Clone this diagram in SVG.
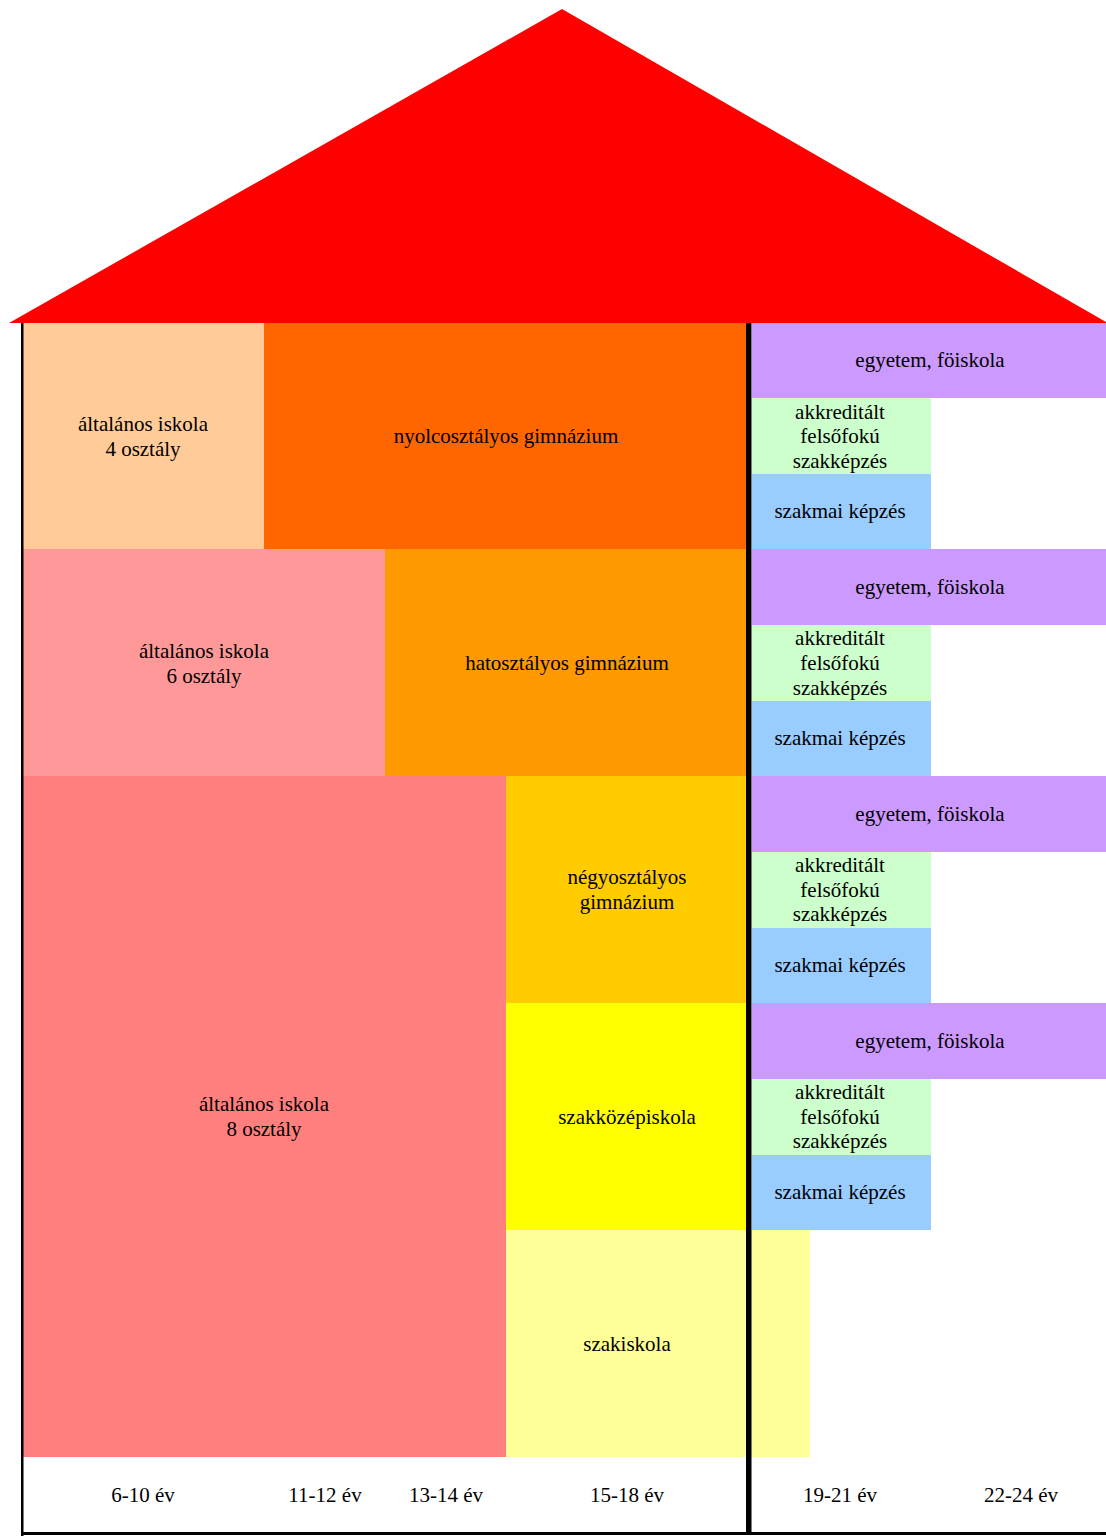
<svg xmlns="http://www.w3.org/2000/svg" width="1106" height="1536" viewBox="0 0 1106 1536">
<style>
text{font-family:"Liberation Serif","Times New Roman",serif;font-size:21px;fill:#000;text-anchor:middle}
</style>
<rect x="0" y="0" width="1106" height="1536" fill="#fff"/>
<g id="roof"><polygon points="9,323 562,9 1106,322 1106,323" fill="#ff0000"/></g>
<g id="alt4"><rect x="23" y="323" width="241" height="226" fill="#ffcc99"/><text x="143" y="431">általános iskola</text><text x="143" y="456">4 osztály</text></g>
<g id="nyolc"><rect x="264" y="323" width="482" height="226" fill="#ff6600"/><text x="506" y="443">nyolcosztályos gimnázium</text></g>
<g id="alt6"><rect x="23" y="549" width="362" height="227" fill="#ff9999"/><text x="204" y="658">általános iskola</text><text x="204" y="683">6 osztály</text></g>
<g id="hat"><rect x="385" y="549" width="361" height="227" fill="#ff9900"/><text x="567" y="670">hatosztályos gimnázium</text></g>
<g id="alt8"><rect x="23" y="776" width="483" height="681" fill="#ff7f7f"/><text x="264" y="1111">általános iskola</text><text x="264" y="1136">8 osztály</text></g>
<g id="negy"><rect x="506" y="776" width="240" height="227" fill="#ffcc00"/><text x="627" y="884">négyosztályos</text><text x="627" y="909">gimnázium</text></g>
<g id="szakkozep"><rect x="506" y="1003" width="240" height="227" fill="#ffff00"/><text x="627" y="1124">szakközépiskola</text></g>
<g id="szakiskola"><rect x="506" y="1230" width="304" height="227" fill="#ffff99"/><text x="627" y="1351">szakiskola</text></g>
<g id="r1">
<g id="egy1"><rect x="752" y="323" width="354" height="75" fill="#cc99ff"/><text x="930" y="367">egyetem, föiskola</text></g>
<g id="akk1"><rect x="752" y="398" width="179" height="76" fill="#ccffcc"/><text x="840" y="419">akkreditált</text><text x="840" y="443">felsőfokú</text><text x="840" y="468">szakképzés</text></g>
<g id="szm1"><rect x="752" y="474" width="179" height="75" fill="#99ccff"/><text x="840" y="518">szakmai képzés</text></g>
</g>
<g id="r2">
<g id="egy2"><rect x="752" y="549" width="354" height="76" fill="#cc99ff"/><text x="930" y="594">egyetem, föiskola</text></g>
<g id="akk2"><rect x="752" y="625" width="179" height="76" fill="#ccffcc"/><text x="840" y="645">akkreditált</text><text x="840" y="670">felsőfokú</text><text x="840" y="695">szakképzés</text></g>
<g id="szm2"><rect x="752" y="701" width="179" height="75" fill="#99ccff"/><text x="840" y="745">szakmai képzés</text></g>
</g>
<g id="r3">
<g id="egy3"><rect x="752" y="776" width="354" height="76" fill="#cc99ff"/><text x="930" y="821">egyetem, föiskola</text></g>
<g id="akk3"><rect x="752" y="852" width="179" height="76" fill="#ccffcc"/><text x="840" y="872">akkreditált</text><text x="840" y="897">felsőfokú</text><text x="840" y="921">szakképzés</text></g>
<g id="szm3"><rect x="752" y="928" width="179" height="75" fill="#99ccff"/><text x="840" y="972">szakmai képzés</text></g>
</g>
<g id="r4">
<g id="egy4"><rect x="752" y="1003" width="354" height="76" fill="#cc99ff"/><text x="930" y="1048">egyetem, föiskola</text></g>
<g id="akk4"><rect x="752" y="1079" width="179" height="76" fill="#ccffcc"/><text x="840" y="1099">akkreditált</text><text x="840" y="1124">felsőfokú</text><text x="840" y="1148">szakképzés</text></g>
<g id="szm4"><rect x="752" y="1155" width="179" height="75" fill="#99ccff"/><text x="840" y="1199">szakmai képzés</text></g>
</g>
<g id="ages">
<text x="143" y="1502">6-10 év</text>
<text x="325" y="1502">11-12 év</text>
<text x="446" y="1502">13-14 év</text>
<text x="627" y="1502">15-18 év</text>
<text x="840" y="1502">19-21 év</text>
<text x="1021" y="1502">22-24 év</text>
</g>
<g id="lines">
<rect x="21" y="323" width="2.5" height="1213" fill="#000"/>
<rect x="21" y="1532" width="1085" height="3" fill="#000"/>
<rect x="746" y="323" width="5.5" height="1212" fill="#000"/>
</g>
</svg>
